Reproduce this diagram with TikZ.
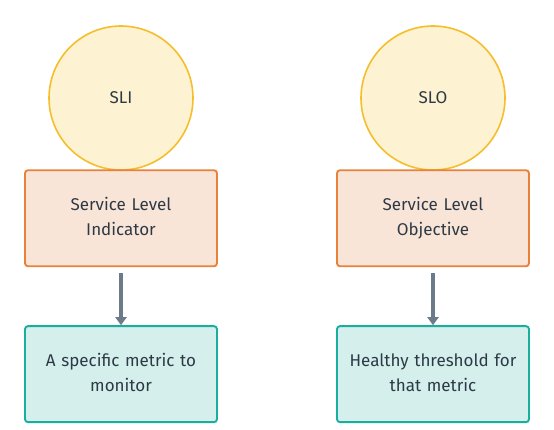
\documentclass[tikz,border=0pt]{standalone}
\usepackage{fontspec}
\setmainfont{Fira Sans}
\usetikzlibrary{positioning,arrows.meta}
\definecolor{termfill}{RGB}{253,242,209}
\definecolor{termline}{RGB}{245,190,45}
\definecolor{namefill}{RGB}{249,228,216}
\definecolor{nameline}{RGB}{232,130,58}
\definecolor{meanfill}{RGB}{212,239,236}
\definecolor{meanline}{RGB}{26,174,159}
\definecolor{linkcolor}{RGB}{108,122,138}
\definecolor{textcolor}{RGB}{45,58,69}

\tikzset{
    term/.style={circle, draw=termline, fill=termfill, line width=1.6pt, minimum size=144pt, inner sep=0pt},
    namebox/.style={draw=nameline, fill=namefill, line width=1.9pt, rounded corners=3pt,
        minimum width=192pt, minimum height=96pt, text width=180pt, align=center,
        execute at begin node=\strut, execute at end node=\strut},
    meanbox/.style={draw=meanline, fill=meanfill, line width=1.9pt, rounded corners=3pt,
        minimum width=192pt, minimum height=96pt, text width=180pt, align=center,
        execute at begin node=\strut, execute at end node=\strut},
    link/.style={draw=linkcolor, line width=3.2pt, -{Triangle[length=8pt,width=11pt]}, shorten <=6pt}
}

\begin{document}
\begin{tikzpicture}[x=1pt, y=1pt, font=\fontsize{17}{25}\selectfont, text=textcolor]
        \useasboundingbox (0,0) rectangle (554,429);
        % left column
        \node[term] (sli) at (121,331) {SLI};
        \node[namebox, below=-1.5pt of sli] (sliName) {Service Level\\Indicator};
        \node[meanbox, below=58pt of sliName] (sliMean) {A specific metric to\\monitor};
        % right column
        \node[term] (slo) at (433,331) {SLO};
        \node[namebox, below=-1.5pt of slo] (sloName) {Service Level\\Objective};
        \node[meanbox, below=58pt of sloName] (sloMean) {Healthy threshold for\\that metric};
        % links
        \draw[link] (sliName) -- (sliMean);
        \draw[link] (sloName) -- (sloMean);
    \end{tikzpicture}
\end{document}
